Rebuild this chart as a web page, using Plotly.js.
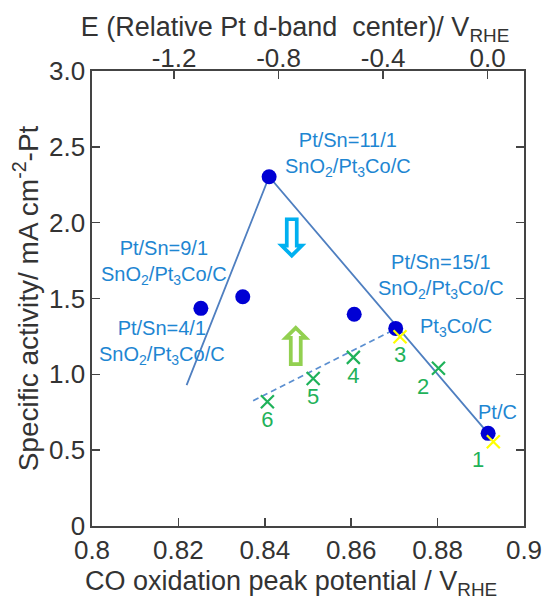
<!DOCTYPE html>
<html>
<head>
<meta charset="utf-8">
<script src="https://cdn.plot.ly/plotly-3.0.1.min.js"></script>
<style>
  html, body { margin: 0; padding: 0; background: #ffffff; }
  #chart { width: 550px; height: 602px; }
</style>
</head>
<body>
<div id="chart"></div>
<script>
// ---- data ----
// catalysts: CO oxidation peak potential (V_RHE) vs specific activity
const peakPotential    = [0.8252, 0.8349, 0.8410, 0.8607, 0.8703, 0.8917];
const specificActivity = [1.435, 1.512, 2.303, 1.396, 1.303, 0.611];

// solid trend line (volcano)
const volcanoX = [0.8219, 0.8410, 0.8917];
const volcanoY = [0.929, 2.303, 0.611];

// dashed trend line
const dashedX = [0.8373, 0.8703];
const dashedY = [0.826, 1.300];

// numbered samples (x markers)
const sampleX      = [0.8929, 0.8802, 0.8713, 0.8605, 0.8512, 0.8406];
const sampleY      = [0.556, 1.040, 1.248, 1.112, 0.973, 0.819];
const sampleLabels = ['1', '2', '3', '4', '5', '6'];
const sampleColors = ['#ffff00', '#1fb25a', '#ffff00', '#1fb25a', '#1fb25a', '#1fb25a'];
const sampleTextPos = ['bottom left', 'bottom left', 'bottom center', 'bottom center', 'bottom center', 'bottom center'];

// axis ticks
const xTickVals = [0.8, 0.82, 0.84, 0.86, 0.88, 0.9];
const xTickText = ['0.8', '0.82', '0.84', '0.86', '0.88', '0.9'];
const yTickVals = [0, 0.5, 1.0, 1.5, 2.0, 2.5, 3.0];
const yTickText = ['0', '0.5', '1.0', '1.5', '2.0', '2.5', '3.0'];
const dBandTickVals = [-1.2, -0.8, -0.4, 0.0];
const dBandTickText = ['-1.2', '-0.8', '-0.4', '0.0'];

// ---- styles ----
const FONT = 'Liberation Sans, Arial, sans-serif';
const AXIS_COLOR = '#444444';
const TEXT_COLOR = '#333333';
const LABEL_BLUE = '#1e86d2';
const LINE_BLUE = '#4f7fc0';
const DOT_BLUE = '#0000d4';
const NUM_GREEN = '#1fb25a';
const NB = '\u00A0';

const traces = [
  {
    x: volcanoX, y: volcanoY, type: 'scatter', mode: 'lines',
    line: { color: LINE_BLUE, width: 1.8 }, hoverinfo: 'skip', showlegend: false
  },
  {
    x: dashedX, y: dashedY, type: 'scatter', mode: 'lines',
    line: { color: '#5b8fd0', width: 1.8, dash: '6px,4px' }, hoverinfo: 'skip', showlegend: false
  },
  {
    x: peakPotential, y: specificActivity, type: 'scatter', mode: 'markers',
    marker: { color: DOT_BLUE, size: 15 }, showlegend: false
  },
  {
    x: sampleX, y: sampleY, type: 'scatter', mode: 'markers+text',
    text: sampleLabels, textposition: sampleTextPos,
    textfont: { family: FONT, size: 22, color: NUM_GREEN },
    marker: { symbol: 'x-thin-open', size: 13, color: sampleColors, line: { width: 2.2 } },
    showlegend: false
  },
  {
    // helper trace so the top (d-band) axis is drawn
    x: dBandTickVals, y: dBandTickVals.map(() => null), xaxis: 'x2', type: 'scatter',
    mode: 'markers', marker: { opacity: 0 }, hoverinfo: 'skip', showlegend: false
  }
];

function label(x, y, text, extra) {
  return Object.assign({
    x: x, y: y, xref: 'x', yref: 'y', text: text, showarrow: false,
    font: { family: FONT, size: 20, color: LABEL_BLUE }, align: 'center'
  }, extra || {});
}

const annotations = [
  label(0.8593, 2.452, 'Pt/Sn=11/1<br>SnO<sub>2</sub>/Pt<sub>3</sub>Co/C'),
  label(0.8167, 1.740, 'Pt/Sn=9/1<br>SnO<sub>2</sub>/Pt<sub>3</sub>Co/C'),
  label(0.8162, 1.213, 'Pt/Sn=4/1<br>SnO<sub>2</sub>/Pt<sub>3</sub>Co/C'),
  label(0.8808, 1.648, 'Pt/Sn=15/1<br>SnO<sub>2</sub>/Pt<sub>3</sub>Co/C'),
  label(0.8843, 1.312, 'Pt<sub>3</sub>Co/C'),
  label(0.8938, 0.751, 'Pt/C'),
  label(0.8462, 1.895, '<b>\u21E9</b>', { font: { family: 'DejaVu Sans', size: 54, color: '#00b0f0' } }),
  label(0.8470, 1.175, '<b>\u21E7</b>', { font: { family: 'DejaVu Sans', size: 54, color: '#92d050' } }),
  // bottom axis title (placed as in the reference, slightly left of centre)
  {
    x: (291 - 92) / 432, y: (526 - 583) / 455, xref: 'paper', yref: 'paper',
    xanchor: 'center', yanchor: 'middle', showarrow: false,
    text: 'CO oxidation peak potential / V<sub>RHE</sub>',
    font: { family: FONT, size: 27, color: TEXT_COLOR }
  }
];

const layout = {
  width: 550, height: 602,
  margin: { l: 92, r: 26, t: 71, b: 76 },
  paper_bgcolor: '#ffffff', plot_bgcolor: '#ffffff',
  font: { family: FONT, color: TEXT_COLOR },
  showlegend: false,
  title: {
    text: 'E (Relative Pt d-band' + NB + ' center)/ V<sub>RHE</sub>',
    font: { family: FONT, size: 27, color: TEXT_COLOR },
    x: 295 / 550, xanchor: 'center', xref: 'container',
    y: 1 - 27 / 602, yanchor: 'middle', yref: 'container'
  },
  xaxis: {
    range: [0.8, 0.9], tickvals: xTickVals, ticktext: xTickText,
    ticks: 'inside', ticklen: 8, tickwidth: 1.5, tickcolor: AXIS_COLOR,
    showline: true, linecolor: AXIS_COLOR, linewidth: 1.6, mirror: false,
    showgrid: false, zeroline: false,
    tickfont: { family: FONT, size: 26, color: TEXT_COLOR }
  },
  xaxis2: {
    overlaying: 'x', side: 'top', anchor: 'y',
    range: [-1.514, 0.139], tickvals: dBandTickVals, ticktext: dBandTickText,
    ticks: 'inside', ticklen: 8, tickwidth: 1.5, tickcolor: AXIS_COLOR,
    showline: true, linecolor: AXIS_COLOR, linewidth: 1.6,
    showgrid: false, zeroline: false, ticklabelstandoff: -8,
    tickfont: { family: FONT, size: 26, color: TEXT_COLOR }
  },
  yaxis: {
    range: [0, 3.0], tickvals: yTickVals, ticktext: yTickText,
    ticks: 'inside', ticklen: 8, tickwidth: 1.5, tickcolor: AXIS_COLOR,
    showline: true, linecolor: AXIS_COLOR, linewidth: 1.6, mirror: 'ticks',
    showgrid: false, zeroline: false,
    tickfont: { family: FONT, size: 26, color: TEXT_COLOR },
    title: { text: 'Specific activity/ mA cm<sup>-2</sup>-Pt', font: { family: FONT, size: 28, color: TEXT_COLOR }, standoff: 2 }
  },
  annotations: annotations
};

Plotly.newPlot('chart', traces, layout, { staticPlot: true, displayModeBar: false });
</script>
</body>
</html>
